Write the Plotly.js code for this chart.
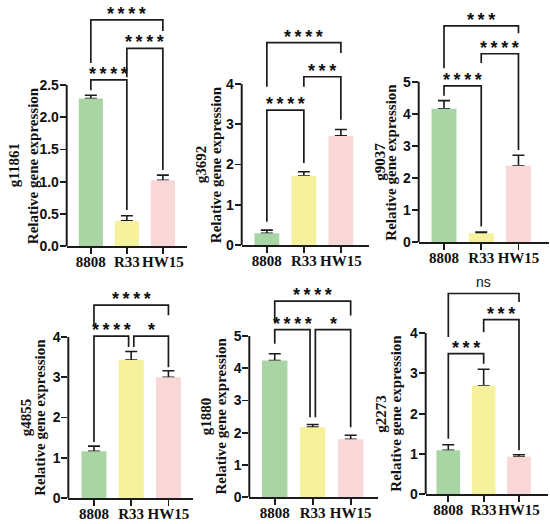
<!DOCTYPE html>
<html><head><meta charset="utf-8">
<script src="https://cdn.plot.ly/plotly-3.0.1.min.js"></script>
<style>html,body{margin:0;padding:0;background:#fff}#chart{width:550px;height:524px}</style>
</head><body><div id="chart"></div>
<script>
// ---------- data ----------
const categories = ['8808', 'R33', 'HW15'];
const genes = ['g11861', 'g3692', 'g9037', 'g4855', 'g1880', 'g2273'];

const mean_g11861 = [2.29, 0.39, 1.02];
const err_g11861  = [0.05, 0.08, 0.08];
const mean_g3692  = [0.29, 1.72, 2.71];
const err_g3692   = [0.08, 0.10, 0.16];
const mean_g9037  = [4.16, 0.28, 2.38];
const err_g9037   = [0.25, 0.04, 0.33];
const mean_g4855  = [1.16, 3.43, 3.00];
const err_g4855   = [0.13, 0.21, 0.16];
const mean_g1880  = [4.24, 2.17, 1.79];
const err_g1880   = [0.21, 0.08, 0.13];
const mean_g2273  = [1.09, 2.69, 0.93];
const err_g2273   = [0.14, 0.41, 0.05];

// comparisons: 8808 vs R33, R33 vs HW15, 8808 vs HW15
const comparisons = [[0, 1], [1, 2], [0, 2]];
const sig_g11861 = ['****', '****', '****'];
const sig_g3692  = ['****', '***', '****'];
const sig_g9037  = ['****', '****', '***'];
const sig_g4855  = ['****', '*', '****'];
const sig_g1880  = ['****', '*', '****'];
const sig_g2273  = ['***', '***', 'ns'];

const ticks_g11861 = [0, 0.5, 1, 1.5, 2, 2.5];
const ticks_g3692  = [0, 1, 2, 3, 4];
const ticks_g9037  = [0, 1, 2, 3, 4, 5];
const ticks_g4855  = [0, 1, 2, 3, 4];
const ticks_g1880  = [0, 1, 2, 3, 4, 5];
const ticks_g2273  = [0, 1, 2, 3, 4];

const means = [mean_g11861, mean_g3692, mean_g9037, mean_g4855, mean_g1880, mean_g2273];
const errs  = [err_g11861, err_g3692, err_g9037, err_g4855, err_g1880, err_g2273];
const sigs  = [sig_g11861, sig_g3692, sig_g9037, sig_g4855, sig_g1880, sig_g2273];
const ticks = [ticks_g11861, ticks_g3692, ticks_g9037, ticks_g4855, ticks_g1880, ticks_g2273];

// ---------- layout config (page pixels / bracket geometry in data units) ----------
const W = 550, H = 524;
const panelCfg = [
  {L: 66.7,  R: 187, B: 246,   tickTopPx: 85,   topPx: 2,   xr: [-0.67, 2.67], tshift: [-52, -33], fmt: '.1f',
   br: [{y: 2.58, ya: 2.42, yb: 0.56}, {y: 3.07, ya: 2.62, yb: 1.18}, {y: 3.51, ya: 2.84, yb: 3.34}]},
  {L: 241.7, R: 369, B: 245,   tickTopPx: 84,   topPx: 2,   xr: [-0.68, 2.76], tshift: [-40, -25], fmt: 'd',
   br: [{y: 3.35, ya: 0.58, yb: 2.04}, {y: 4.18, ya: 3.93, yb: 3.11}, {y: 5.03, ya: 3.93, yb: 4.77}]},
  {L: 418.7, R: 549, B: 242.3, tickTopPx: 81.7, topPx: 2,   xr: [-0.68, 2.82], tshift: [-39, -28], fmt: 'd',
   br: [{y: 4.87, ya: 4.56, yb: 0.49}, {y: 5.87, ya: 5.58, yb: 2.87}, {y: 6.74, ya: 5.42, yb: 6.51}]},
  {L: 68.3,  R: 193, B: 498,   tickTopPx: 337,  topPx: 264, xr: [-0.69, 2.66], tshift: [-42.5, -29], fmt: 'd',
   br: [{y: 4.02, ya: 1.39, yb: 3.75, nb: -0.07}, {y: 4.02, ya: 3.75, yb: 3.25, na: 0.07}, {y: 4.79, ya: 4.29, yb: 4.54}]},
  {L: 249.3, R: 378, B: 497,   tickTopPx: 336,  topPx: 264, xr: [-0.67, 2.72], tshift: [-43.5, -29.3], fmt: 'd',
   br: [{y: 5.20, ya: 4.76, yb: 2.48, nb: -0.07}, {y: 5.20, ya: 2.48, yb: 2.17, na: 0.07}, {y: 6.08, ya: 5.43, yb: 5.64}]},
  {L: 425.7, R: 548, B: 494.3, tickTopPx: 333,  topPx: 264, xr: [-0.64, 2.82], tshift: [-44.7, -29.7], fmt: 'd',
   br: [{y: 3.49, ya: 1.38, yb: 3.24}, {y: 4.33, ya: 4.02, yb: 1.09}, {y: 4.98, ya: 3.90, yb: 4.77}]}
];

const barColors = ['#a9d5a4', '#f5f19d', '#fad7d7'];
const ink = '#1c1c1c';
const serifBold = {family: 'Liberation Serif, Times New Roman, serif', size: 15, color: '#111', weight: 'bold'};
const sansBold = {family: 'Liberation Sans, Arial, sans-serif', size: 14, color: '#111', weight: 'bold'};
const starFont = {family: 'Liberation Sans, Arial, sans-serif', size: 18, color: '#111', weight: 'bold'};
const nsFont = {family: 'Liberation Sans, Arial, sans-serif', size: 14, color: '#111'};

const data = [];
const layout = {
  width: W, height: H, margin: {l: 0, r: 0, t: 0, b: 0},
  paper_bgcolor: '#fff', plot_bgcolor: 'rgba(0,0,0,0)',
  barmode: 'overlay', showlegend: false, hovermode: false,
  shapes: [], annotations: []
};

const xpos = categories.map((c, k) => k);

genes.forEach((gene, i) => {
  const n = i + 1, sfx = n === 1 ? '' : String(n);
  const xa = 'x' + sfx, ya = 'y' + sfx;
  const cfg = panelCfg[i];
  const tv = ticks[i];
  const maxTick = tv[tv.length - 1];
  const pxPerUnit = (cfg.B - cfg.tickTopPx) / maxTick;
  const yTop = (cfg.B - cfg.topPx) / pxPerUnit;

  // error bars (drawn underneath the coloured bars so only the upper half shows)
  data.push({
    type: 'bar', x: xpos, y: means[i], width: 0.67, xaxis: xa, yaxis: ya,
    marker: {color: 'rgba(0,0,0,0)', line: {width: 0}}, hoverinfo: 'skip',
    error_y: {type: 'data', symmetric: false, array: errs[i], arrayminus: errs[i].map(() => 0),
              color: ink, thickness: 1.6, width: 6}
  });
  data.push({
    type: 'bar', x: xpos, y: means[i], width: 0.67, xaxis: xa, yaxis: ya,
    marker: {color: barColors, line: {width: 0}}, hoverinfo: 'skip'
  });

  layout['xaxis' + sfx] = {
    domain: [cfg.L / W, cfg.R / W], range: cfg.xr, anchor: ya,
    tickmode: 'array', tickvals: xpos, ticktext: categories, tickfont: serifBold, tickangle: 0,
    ticklabelstandoff: -5,
    showline: true, linewidth: 2, linecolor: ink, ticks: 'outside', ticklen: 6, tickwidth: 1.8, tickcolor: ink,
    showgrid: false, zeroline: false, fixedrange: true
  };
  layout['yaxis' + sfx] = {
    domain: [1 - cfg.B / H, 1 - cfg.topPx / H], range: [0, yTop], anchor: xa,
    tickmode: 'array', tickvals: tv, ticktext: tv.map(v => cfg.fmt === '.1f' ? v.toFixed(1) : String(v)),
    tickfont: sansBold, ticklabelstandoff: -2, showline: false, ticks: 'outside', ticklen: 6, tickwidth: 1.8, tickcolor: ink,
    showgrid: false, zeroline: false, fixedrange: true
  };

  // y axis line only up to the top tick
  layout.shapes.push({type: 'line', xref: xa + ' domain', yref: ya, x0: 0, x1: 0, y0: 0, y1: maxTick,
                      line: {color: ink, width: 2}});

  // y axis titles (two lines)
  layout.annotations.push({xref: xa + ' domain', yref: ya, x: 0, y: maxTick / 2, xshift: cfg.tshift[0],
    text: gene, textangle: -90, showarrow: false, font: serifBold, xanchor: 'center', yanchor: 'middle'});
  layout.annotations.push({xref: xa + ' domain', yref: ya, x: 0, y: maxTick / 2, xshift: cfg.tshift[1],
    text: 'Relative gene expression', textangle: -90, showarrow: false, font: serifBold, xanchor: 'center', yanchor: 'middle'});

  // significance brackets
  comparisons.forEach((pair, k) => {
    const b = cfg.br[k];
    const xA = pair[0] + (b.na || 0), xB = pair[1] + (b.nb || 0);
    layout.shapes.push({type: 'path', xref: xa, yref: ya,
      path: `M ${xA},${b.ya} V ${b.y} H ${xB} V ${b.yb}`,
      line: {color: ink, width: 1.7}});
    const lab = sigs[i][k];
    const isStar = lab.indexOf('*') >= 0;
    layout.annotations.push({xref: xa, yref: ya, x: (xA + xB) / 2, y: b.y, yanchor: 'bottom', xanchor: 'center',
      yshift: isStar ? -6 : 1, text: isStar ? lab.split('').join('\u2009') : lab, showarrow: false,
      font: isStar ? starFont : nsFont});
  });
});

Plotly.newPlot('chart', data, layout, {staticPlot: true, displayModeBar: false});
</script>
</body></html>
